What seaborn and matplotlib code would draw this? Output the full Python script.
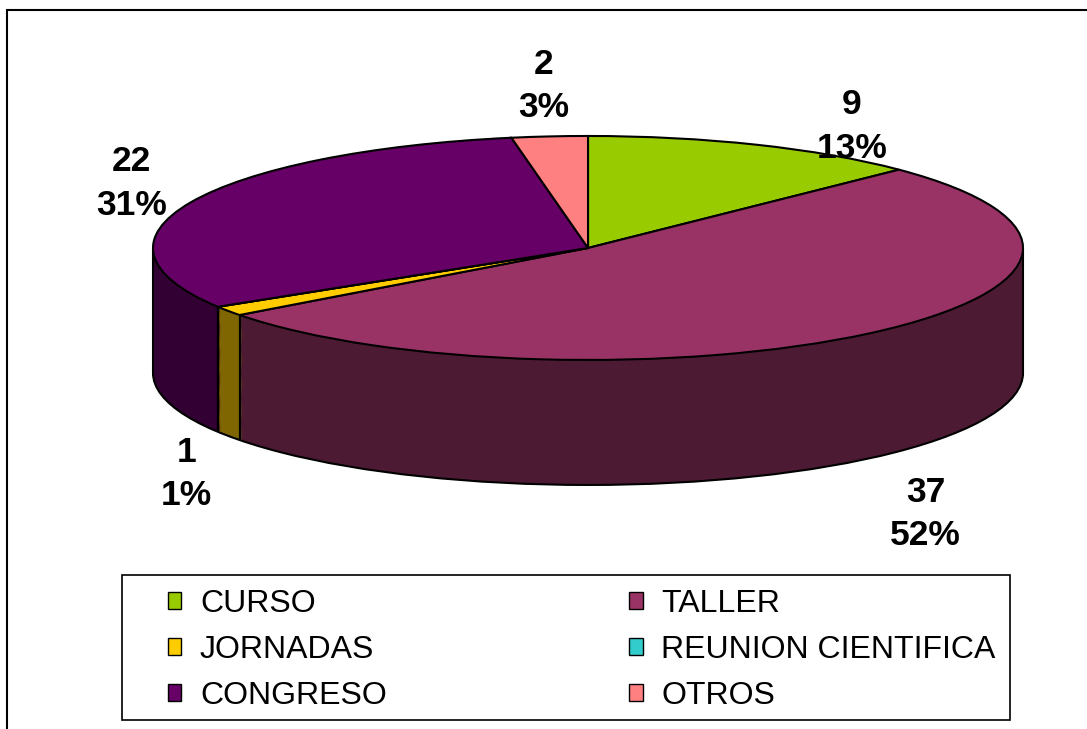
import numpy as np
import matplotlib
matplotlib.use("Agg")
import matplotlib.pyplot as plt
from matplotlib.patches import Patch, Rectangle, Arc
import seaborn as sns

sns.set_theme(style="white")
plt.rcParams["font.family"] = ["Liberation Sans", "DejaVu Sans"]
plt.rcParams["text.color"] = "black"

# data
categories = ["CURSO", "TALLER", "JORNADAS", "REUNION CIENTIFICA", "CONGRESO", "OTROS"]
values = [9, 37, 1, 0, 22, 2]
top_colors = ["#99CC00", "#993366", "#FFCC00", "#33CCCC", "#660066", "#FF8080"]
side_colors = ["#4D6600", "#4D1A33", "#806600", "#1A6666", "#330033", "#804040"]
# small pixel nudges for the value labels
label_nudge = [(70, -30), (12, -12), (12, 0), (0, 0), (0, -15), (0, 0)]

total = sum(values)
percents = [round(v / total * 100) for v in values]

fig = plt.figure(figsize=(10.87, 7.29), dpi=100)
ax = fig.add_axes([0.12075, 0.2604, 0.8404, 0.6606])

depth = 1.116
n_layers = 120

# side of the cylinder: stacked pies, deepest first
for k in range(n_layers, 0, -1):
    ax.pie(values, colors=side_colors, startangle=90, counterclock=False,
           center=(0, -depth * k / n_layers), wedgeprops=dict(linewidth=0, zorder=1))

# top face
top_wedges, _ = ax.pie(values, colors=top_colors, startangle=90, counterclock=False,
                       wedgeprops=dict(edgecolor="black", linewidth=1.5, zorder=5))

# outlines of the side
ax.add_patch(Arc((0, -depth), 2, 2, theta1=180, theta2=360, color="black", lw=1.5, zorder=4))
ax.vlines([-1, 1], -depth, 0, color="black", lw=1.5, zorder=4)
for w in top_wedges:
    for t in (w.theta1, w.theta2):
        s = np.sin(np.radians(t))
        if s < 0:
            c = np.cos(np.radians(t))
            ax.vlines(c, s - depth, s, color="black", lw=1.5, zorder=4)

# labels
for w, v, p, nd in zip(top_wedges, values, percents, label_nudge):
    if v == 0:
        continue
    mid = np.radians((w.theta1 + w.theta2) / 2)
    x = 1.15 * np.cos(mid)
    s = np.sin(mid)
    y = 1.25 * s + 0.2 if s > 0 else 1.25 * s - depth - 0.2
    ax.annotate(f"{v}\n{p}%", xy=(x, y), xytext=nd, textcoords="offset pixels",
                ha="center", va="center", fontsize=25.5, fontweight="bold",
                linespacing=1.4, zorder=6, color="black")

ax.set_aspect("auto")
ax.set_xlim(-1.05, 1.05)
ax.set_ylim(-2.6, 1.7)
ax.axis("off")

# legend (column-wise order gives row-wise reading)
order = [0, 2, 4, 1, 3, 5]
handles = [Patch(facecolor=top_colors[i], edgecolor="black", linewidth=1) for i in order]
labels = [categories[i] for i in order]
fig.legend(handles=handles, labels=labels, ncol=2, loc="upper left",
           bbox_to_anchor=(168 / 1087, 1 - 589 / 729), frameon=False, fontsize=23,
           handlelength=0.42, handleheight=0.42, handletextpad=0.58, columnspacing=7.6,
           labelspacing=0.5, borderpad=0, borderaxespad=0, labelcolor="black")

fig.patches.append(Rectangle((122 / 1087, 1 - 720 / 729), (1010 - 122) / 1087, (720 - 575) / 729,
                             transform=fig.transFigure, fill=False, edgecolor="black", lw=1.2))
fig.patches.append(Rectangle((7 / 1087, -0.05), 1.1, 1 - 10 / 729 + 0.05,
                             transform=fig.transFigure, fill=False, edgecolor="black", lw=1.5))

fig.savefig("out.png", dpi=100, facecolor="white")
